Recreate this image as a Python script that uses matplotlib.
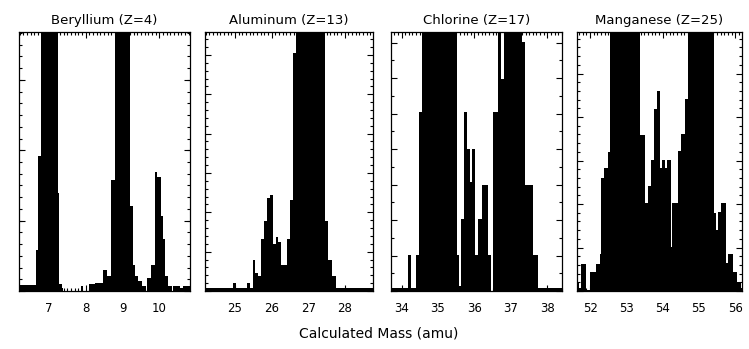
import matplotlib
matplotlib.use("Agg")
import matplotlib.pyplot as plt
from matplotlib.ticker import MultipleLocator

# histogram data (edges in amu, heights as fraction of panel height)
titles = ["Beryllium (Z=4)", "Aluminum (Z=13)", "Chlorine (Z=17)", "Manganese (Z=25)"]

be_edges = [6.18, 6.65, 6.71, 6.77, 7.23, 7.28, 7.34, 7.39, 7.87, 7.93,
            8.10, 8.25, 8.48, 8.57, 8.69, 8.80, 9.20, 9.28, 9.34, 9.43,
            9.52, 9.63, 9.68, 9.79, 9.88, 9.95, 10.04, 10.11, 10.17, 10.25,
            10.34, 10.38, 10.56, 10.64, 10.84]
be_counts = [0.025, 0.16, 0.52, 1.5, 0.38, 0.026, 0.01, 0.0, 0.02, 0.0,
             0.026, 0.03, 0.08, 0.06, 0.43, 1.5, 0.33, 0.1, 0.06, 0.04,
             0.02, 0.0, 0.05, 0.1, 0.46, 0.44, 0.29, 0.2, 0.06, 0.02,
             0.0, 0.02, 0.01, 0.02]

al_edges = [24.18, 24.95, 25.02, 25.34, 25.41, 25.48, 25.55, 25.62, 25.70, 25.79,
            25.88, 25.95, 26.05, 26.11, 26.18, 26.25, 26.41, 26.50, 26.59, 26.66,
            27.45, 27.55, 27.64, 27.75, 27.80, 28.77]
al_counts = [0.01, 0.03, 0.01, 0.03, 0.01, 0.12, 0.07, 0.06, 0.2, 0.27,
             0.36, 0.37, 0.18, 0.21, 0.19, 0.1, 0.2, 0.35, 0.92, 1.5,
             0.27, 0.12, 0.06, 0.01, 0.01]

cl_edges = [33.71, 34.17, 34.26, 34.39, 34.48, 34.55, 35.51, 35.58, 35.62, 35.71,
            35.80, 35.89, 35.94, 36.01, 36.10, 36.20, 36.38, 36.44, 36.50, 36.65,
            36.73, 36.81, 37.29, 37.39, 37.61, 37.75, 38.40]
cl_counts = [0.01, 0.14, 0.01, 0.14, 0.69, 1.5, 0.14, 0.02, 0.28, 0.69,
             0.55, 0.42, 0.55, 0.14, 0.28, 0.41, 0.14, 0.0, 0.69, 1.5,
             0.82, 1.5, 0.96, 0.41, 0.14, 0.01]

mn_edges = [51.64, 51.69, 51.75, 51.90, 51.99, 52.17, 52.26, 52.30, 52.38, 52.49,
            52.56, 53.39, 53.52, 53.59, 53.68, 53.75, 53.85, 53.93, 53.98, 54.07,
            54.11, 54.23, 54.27, 54.42, 54.51, 54.62, 54.69, 55.42, 55.48, 55.53,
            55.60, 55.74, 55.81, 55.95, 56.04, 56.16, 56.19]
mn_counts = [0.036, 0.01, 0.103, 0.005, 0.072, 0.103, 0.143, 0.437, 0.474, 0.538,
             1.5, 0.602, 0.339, 0.405, 0.506, 0.703, 0.772, 0.474, 0.506, 0.474,
             0.506, 0.171, 0.339, 0.54, 0.605, 0.741, 1.5, 0.30, 0.235, 0.306,
             0.339, 0.107, 0.143, 0.072, 0.036, 0.01]

xticks = [[7, 8, 9, 10], [25, 26, 27, 28], [34, 35, 36, 37, 38], [52, 53, 54, 55, 56]]

edges = [be_edges, al_edges, cl_edges, mn_edges]
counts = [be_counts, al_counts, cl_counts, mn_counts]

# layout in figure fractions
lefts = [0.0254, 0.2737, 0.5220, 0.7704]
widths = [0.2283, 0.2243, 0.2283, 0.2203]
ymajor = [0.272, 0.152, 0.137, 0.168]
yminor = [0.0453, 0.0304, 0.0685, 0.0336]

fig = plt.figure(figsize=(7.49, 3.49), dpi=100)

for i in range(4):
    ax = fig.add_axes([lefts[i], 0.166, widths[i], 0.742])
    ax.stairs(counts[i], edges[i], fill=True, color="black", linewidth=0)
    ax.set_xlim(edges[i][0], edges[i][-1])
    ax.set_ylim(0, 1)
    ax.set_xticks(xticks[i])
    ax.xaxis.set_minor_locator(MultipleLocator(0.1))
    ax.yaxis.set_major_locator(MultipleLocator(ymajor[i]))
    ax.yaxis.set_minor_locator(MultipleLocator(yminor[i]))
    ax.tick_params(which="both", direction="in", top=True, right=True,
                   labelleft=False, width=0.8, labelsize=8.5, pad=8)
    ax.tick_params(which="major", length=4)
    ax.tick_params(which="minor", length=2)
    for s in ax.spines.values():
        s.set_linewidth(0.9)
    ax.set_title(titles[i], fontsize=9.5, pad=6)

fig.text(0.505, 0.045, "Calculated Mass (amu)", ha="center", va="center", fontsize=10)

fig.savefig("out.png", dpi=100)
